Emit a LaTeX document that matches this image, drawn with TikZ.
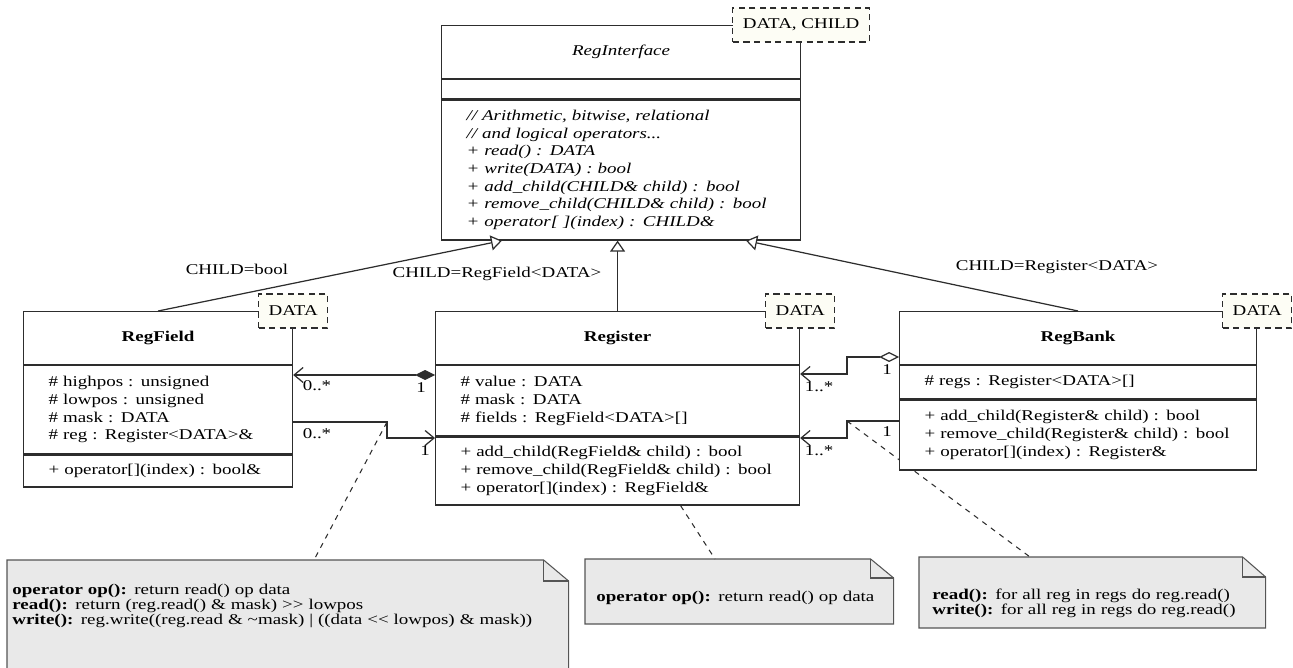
\documentclass[tikz,border=0pt]{standalone}
\usepackage{fontspec}
\setmainfont[FakeStretch=1.27]{Liberation Serif}
\usepackage{xcolor}
\usepackage{tikz}
\usetikzlibrary{positioning,arrows.meta,calc,backgrounds}

\definecolor{linegray}{RGB}{45,45,45}
\definecolor{notegray}{RGB}{233,233,233}
\definecolor{notedraw}{RGB}{85,85,85}
\definecolor{tmplfill}{RGB}{253,253,245}
\lineskiplimit=-10pt

\begin{document}
\begin{tikzpicture}[x=0.02cm, y=-0.02cm,
every node/.style={font=\fontsize{8.5}{10.05}\selectfont},
cname/.style={draw=linegray, line width=0.7pt, fill=white, anchor=north west, minimum height=1.06cm, inner sep=0pt, font=\fontsize{8.5}{10.05}\selectfont\bfseries},
cpart/.style={draw=linegray, line width=0.7pt, fill=white, align=left, inner xsep=0.5cm, inner ysep=0pt},
tmpl/.style={draw=linegray, line width=0.6pt, dash pattern=on 3.5pt off 2.5pt, fill=tmplfill, minimum height=0.68cm, inner xsep=0.2cm},
note/.style={anchor=west, align=left, inner ysep=0pt, font=\fontsize{8.5}{8.5}\selectfont},
noteshape/.style={draw=notedraw, fill=notegray, line width=0.6pt},
anchorline/.style={draw=linegray, line width=0.6pt, dash pattern=on 3pt off 3pt},
inh/.style={draw=linegray, line width=0.7pt, -{Triangle[open, length=0.22cm, width=0.3cm, fill=white]}},
assoc/.style={draw=linegray, line width=0.7pt, -{Straight Barb[length=0.18cm, width=0.3cm]}},
comp/.style={draw=linegray, line width=0.7pt, {Diamond[length=0.4cm, width=0.2cm]}-{Straight Barb[length=0.18cm, width=0.3cm]}},
aggr/.style={draw=linegray, line width=0.7pt, {Diamond[open, length=0.4cm, width=0.2cm, fill=white]}-{Straight Barb[length=0.18cm, width=0.3cm]}}]

\useasboundingbox (0,0) rectangle (1293,668);

% RegInterface
\node[cname, minimum width=7.18cm, font=\fontsize{8.5}{10.05}\selectfont\itshape] (riname) at (441,25) {RegInterface};
\node[cpart, text width=6.18cm, minimum height=0.38cm, below=0pt of riname] (riattr) {};
\node[cpart, text width=6.18cm, minimum height=2.8cm, below=0pt of riattr, font=\fontsize{8.5}{10.05}\selectfont\itshape] (riops) {// Arithmetic, bitwise, relational\\ // and logical operators...\\ + read() : DATA\\ + write(DATA) : bool\\ + add\_child(CHILD\& child) : bool\\ + remove\_child(CHILD\& child) : bool\\ + operator[ ](index) : CHILD\&};
\node[tmpl] (ritmpl) at (riname.north east) {DATA, CHILD};

% RegField
\node[cname, minimum width=5.38cm] (rfname) at (23,311) {RegField};
\node[cpart, text width=4.38cm, minimum height=1.76cm, below=0pt of rfname] (rfattr) {\# highpos : unsigned\\ \# lowpos : unsigned\\ \# mask : DATA\\ \# reg : Register<DATA>\&};
\node[cpart, text width=4.38cm, minimum height=0.64cm, below=0pt of rfattr] (rfops) {+ operator[](index) : bool\&};
\node[tmpl] (rftmpl) at (rfname.north east) {DATA};

% Register
\node[cname, minimum width=7.28cm] (regname) at (435,311) {Register};
\node[cpart, text width=6.28cm, minimum height=1.4cm, below=0pt of regname] (regattr) {\# value : DATA\\ \# mask : DATA\\ \# fields : RegField<DATA>[]};
\node[cpart, text width=6.28cm, minimum height=1.36cm, below=0pt of regattr] (regops) {+ add\_child(RegField\& child) : bool\\ + remove\_child(RegField\& child) : bool\\ + operator[](index) : RegField\&};
\node[tmpl] (regtmpl) at (regname.north east) {DATA};

% RegBank
\node[cname, minimum width=7.14cm] (rbname) at (899,311) {RegBank};
\node[cpart, text width=6.14cm, minimum height=0.66cm, below=0pt of rbname] (rbattr) {\# regs : Register<DATA>[]};
\node[cpart, text width=6.14cm, minimum height=1.4cm, below=0pt of rbattr] (rbops) {+ add\_child(Register\& child) : bool\\ + remove\_child(Register\& child) : bool\\ + operator[](index) : Register\&};
\node[tmpl] (rbtmpl) at (rbname.north east) {DATA};

% generalisation
\draw[inh] (rfname.north) -- (riops.south -| 502,0);
\draw[inh] (regname.north) -- (riops.south -| regname.north);
\draw[inh] (rbname.north) -- (riops.south -| 746,0);
\node (lbool) at (237,269) {CHILD=bool};
\node (lfield) at (497,274) {CHILD=RegField<DATA>};
\node (lreg) at (1057,267) {CHILD=Register<DATA>};

% associations
\coordinate (k1) at (387,422);
\coordinate (k2) at (847,374);
\coordinate (k3) at (847,421);
\draw[comp] (regattr.west |- 0,375) -- (rfattr.east |- 0,375);
\draw[assoc] (rfattr.east |- k1) -- (k1) |- (regops.west |- 0,438);
\draw[aggr] (rbname.west |- 0,357) -| (k2) -- (regattr.east |- k2);
\draw[assoc] (rbops.west |- k3) -- (k3) |- (regops.east |- 0,438);
\node (m1) at (317,386) {0..*};
\node (m2) at (421,388) {1};
\node (m3) at (317,434) {0..*};
\node (m4) at (425,451) {1};
\node (m5) at (887,370) {1};
\node (m6) at (819,387) {1..*};
\node (m7) at (887,432) {1};
\node (m8) at (819,451) {1..*};

% notes
\node[note, inner xsep=0.1cm, text width=11.02cm] (n1) at (7,606) {\textbf{operator op():} return read() op data\\ \textbf{read():} return (reg.read() \& mask) >\kern0pt> lowpos\\ \textbf{write():} reg.write((reg.read \& \textasciitilde mask) \textbar{} ((data <\kern0pt< lowpos) \& mask))};
\node[note, inner xsep=0.22cm, text width=5.72cm] (n2) at (585,598) {\textbf{operator op():} return read() op data};
\node[note, inner xsep=0.26cm, text width=6.4cm] (n3) at (919,603) {\textbf{read():} for all reg in regs do reg.read()\\ \textbf{write():} for all reg in regs do reg.read()};
\coordinate (t1) at (314,560);
\coordinate (t2) at (715,559);
\coordinate (t3) at (1030,557);

\begin{scope}[on background layer]
\draw[noteshape] (n1.west |- t1) -- ($(n1.east |- t1)+(-25,0)$) -- (n1.east |- 0,581) -- (n1.east |- 0,672) -- (n1.west |- 0,672) -- cycle;
\draw[noteshape, fill=none] ($(n1.east |- t1)+(-25,0)$) |- (n1.east |- 0,581);
\draw[noteshape] (n2.west |- t2) -- ($(n2.east |- t2)+(-23,0)$) -- (n2.east |- 0,578) -- (n2.east |- 0,624) -- (n2.west |- 0,624) -- cycle;
\draw[noteshape, fill=none] ($(n2.east |- t2)+(-23,0)$) |- (n2.east |- 0,578);
\draw[noteshape] (n3.west |- t3) -- ($(n3.east |- t3)+(-23,0)$) -- (n3.east |- 0,577) -- (n3.east |- 0,628) -- (n3.west |- 0,628) -- cycle;
\draw[noteshape, fill=none] ($(n3.east |- t3)+(-23,0)$) |- (n3.east |- 0,577);
\draw[anchorline] (k1) -- (t1);
\draw[anchorline] ($(regops.south)+(63,0)$) -- (t2);
\draw[anchorline] (k3) -- (t3);
\end{scope}
\end{tikzpicture}
\end{document}
